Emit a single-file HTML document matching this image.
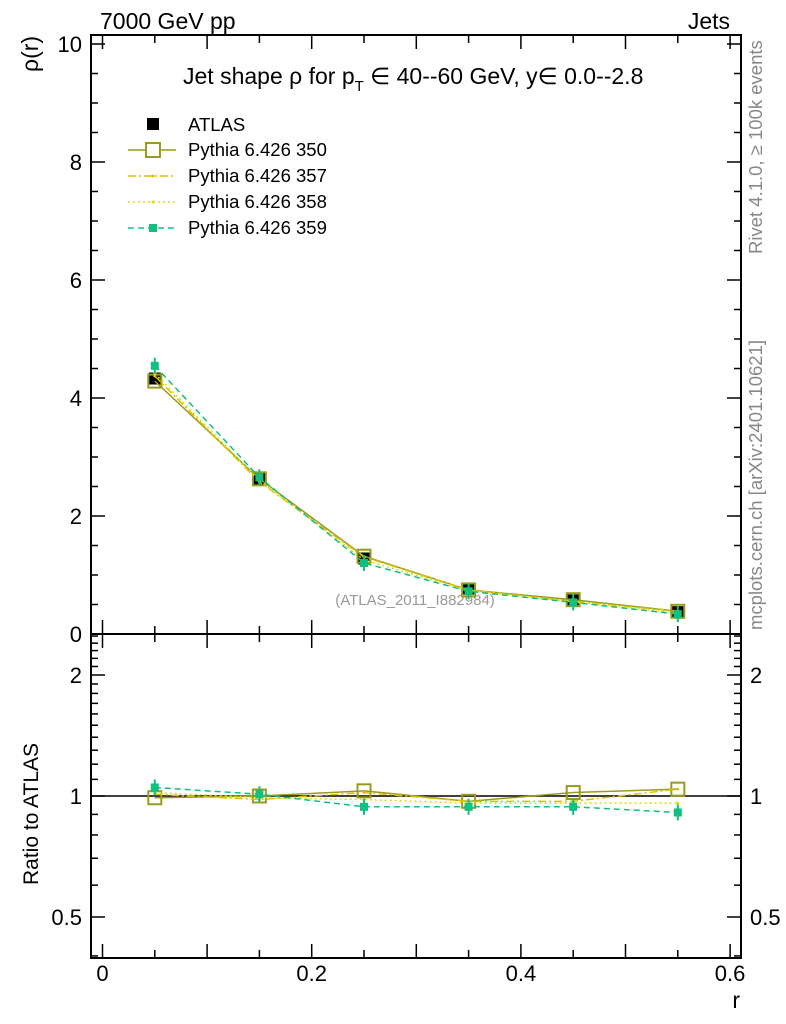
<!DOCTYPE html>
<html><head><meta charset="utf-8"><style>
body{margin:0;background:#fff;}
svg{display:block;font-family:"Liberation Sans",sans-serif;}
</style></head><body>
<svg id="c" width="786" height="1024"></svg>
<script>
const rVals=[0.05,0.15,0.25,0.35,0.45,0.55];
const atlas=[4.33,2.63,1.28,0.77,0.57,0.37];
const atlasErr=[0.08,0.05,0.03,0.02,0.02,0.01];
const r350=[0.99,1.0,1.03,0.97,1.02,1.04];
const r357=[1.01,0.98,1.02,0.97,0.97,1.04];
const r358=[1.02,0.99,0.98,0.96,0.96,0.96];
const r359=[1.05,1.01,0.94,0.94,0.94,0.91];
const xTicks=[0,0.2,0.4,0.6];
const yTicks=[0,2,4,6,8,10];
const ratioTicks=[0.5,1,2];

const NS="http://www.w3.org/2000/svg";
const svg=document.getElementById('c');
function el(t,a,p){const e=document.createElementNS(NS,t);for(const k in a)e.setAttribute(k,a[k]);(p||svg).appendChild(e);return e;}
const L=91,R=741,T=35,M=634,B=958;
const X=v=>102.5+v*1046;
const Y=v=>634-v*59;
const YR=v=>796-Math.log2(v)*121;

let f=el('rect',{x:L,y:T,width:R-L,height:M-T,fill:'none',stroke:'#000','stroke-width':2});

f=el('rect',{x:L,y:M,width:R-L,height:B-M,fill:'none',stroke:'#000','stroke-width':2});


for(let i=0;i<=12;i++){const v=i*0.05,x=X(v),maj=(i%2==0);const len=maj?14:8;
 [[M,M-len],[T,T+len],[B,B-len],[M,M+len]].forEach(p=>{el('line',{x1:x,x2:x,y1:p[0],y2:p[1],stroke:'#000','stroke-width':1.5});});}
xTicks.forEach(v=>{const t=el('text',{x:X(v),y:981,'font-size':22,'text-anchor':'middle'});t.textContent=v;
 });
for(let i=0;i<=50;i++){const v=i*0.5,y=Y(v);if(y<T)break;const maj=(i%4==0);const len=maj?14:7;
 el('line',{x1:L,x2:L+len,y1:y,y2:y,stroke:'#000','stroke-width':1.5});el('line',{x1:R,x2:R-len,y1:y,y2:y,stroke:'#000','stroke-width':1.5});}
yTicks.forEach(v=>{const t=el('text',{x:82,y:Y(v)+8,'font-size':22,'text-anchor':'end'});t.textContent=v;
 });
const rMinor=[0.4,0.5,0.6,0.7,0.8,0.9,1,1.1,1.2,1.3,1.4,1.5,1.6,1.7,1.8,1.9,2,2.1,2.2,2.3,2.4,2.5];
rMinor.forEach(v=>{const y=YR(v);if(y<M||y>B)return;const maj=(v==0.5||v==1||v==2);const len=maj?14:7;
 el('line',{x1:L,x2:L+len,y1:y,y2:y,stroke:'#000','stroke-width':1.5});el('line',{x1:R,x2:R-len,y1:y,y2:y,stroke:'#000','stroke-width':1.5});});
ratioTicks.forEach(v=>{[[82,'end'],[750,'start']].forEach(p=>{const t=el('text',{x:p[0],y:YR(v)+8,'font-size':22,'text-anchor':p[1]});t.textContent=v;
 });});
el('line',{x1:L,x2:R,y1:YR(1),y2:YR(1),stroke:'#000','stroke-width':1.5});

function txt(s,a,name){const t=el('text',a);t.textContent=s;return t;}
txt('7000 GeV pp',{x:100,y:29,'font-size':23},'energy-label');
txt('Jets',{x:730,y:29,'font-size':23,'text-anchor':'end'},'process-label');
txt('ρ(r)',{x:0,y:0,'font-size':23,transform:'translate(38,72) rotate(-90)','text-anchor':'start'},'y-axis-title');
txt('Ratio to ATLAS',{x:0,y:0,'font-size':21,transform:'translate(38,885) rotate(-90)'},'ratio-axis-title');
txt('r',{x:740,y:1008,'font-size':23,'text-anchor':'end'},'x-axis-title');
const ti=txt('',{x:183,y:84,'font-size':23},'plot-title');
ti.innerHTML='Jet shape ρ for p<tspan dy="7" font-size="15">T</tspan><tspan dy="-7"> ∈ 40--60 GeV, y∈ 0.0--2.8</tspan>';
txt('(ATLAS_2011_I882984)',{x:415,y:605,'font-size':15,fill:'#999','text-anchor':'middle'},'analysis-id');
txt('Rivet 4.1.0, ≥ 100k events',{x:0,y:0,'font-size':18.5,fill:'#888',transform:'translate(762,254) rotate(-90)'},'rivet-label');
txt('mcplots.cern.ch [arXiv:2401.10621]',{x:0,y:0,'font-size':18.5,fill:'#888',transform:'translate(762,630) rotate(-90)'},'mcplots-label');

const series=[
 {name:'350',r:r350,color:'#9a9a1e',dash:'',marker:'open'},
 {name:'357',r:r357,color:'#e0c000',dash:'8,3,2,3',marker:'dot'},
 {name:'358',r:r358,color:'#d8e000',dash:'2,3',marker:'dot'},
 {name:'359',r:r359,color:'#10c080',dash:'6,4',marker:'fill'}];
function drawSeries(s,yf,valsFn,g){
 const pts=rVals.map((x,i)=>X(x)+','+yf(valsFn(i))).join(' ');
 el('polyline',{points:pts,fill:'none',stroke:s.color,'stroke-width':1.5,'stroke-dasharray':s.dash},g);
 rVals.forEach((x,i)=>{const y=yf(valsFn(i));
  if(s.marker=='open')el('rect',{x:X(x)-6.5,y:y-6.5,width:13,height:13,fill:'none',stroke:s.color,'stroke-width':2},g);
  else if(s.marker=='fill'){el('line',{x1:X(x),x2:X(x),y1:y-8,y2:y+8,stroke:s.color,'stroke-width':2},g);el('rect',{x:X(x)-4,y:y-4,width:8,height:8,fill:s.color},g);}
  else el('circle',{cx:X(x),cy:y,r:1.5,fill:s.color},g);});
}
const ga=el('g',{});
rVals.forEach((x,i)=>{el('line',{x1:X(x),x2:X(x),y1:Y(atlas[i]+atlasErr[i]),y2:Y(atlas[i]-atlasErr[i]),stroke:'#000','stroke-width':2},ga);
 el('rect',{x:X(x)-6,y:Y(atlas[i])-6,width:12,height:12,fill:'#000'},ga);});
series.forEach(s=>{
 const g=el('g',{});
 drawSeries(s,Y,i=>atlas[i]*s.r[i],g);
 const g2=el('g',{});
 drawSeries(s,YR,i=>s.r[i],g2);
});

const lg=el('g',{});
el('rect',{x:147,y:118,width:12,height:12,fill:'#000'},lg);
txt('ATLAS',{x:188,y:131,'font-size':18.5},'legend-entry-atlas');
series.forEach((s,k)=>{const y=150+k*26;
 el('line',{x1:128,x2:176,y1:y,y2:y,stroke:s.color,'stroke-width':1.5,'stroke-dasharray':s.dash},lg);
 if(s.marker=='open')el('rect',{x:146,y:y-7,width:14,height:14,fill:'#fff',stroke:s.color,'stroke-width':2},lg);
 else if(s.marker=='fill')el('rect',{x:149,y:y-4,width:8,height:8,fill:s.color},lg);
 else el('circle',{cx:153,cy:y,r:1.5,fill:s.color},lg);
 txt('Pythia 6.426 '+s.name,{x:188,y:y+6,'font-size':18.5},'legend-entry-'+s.name);});
</script>
</body></html>
